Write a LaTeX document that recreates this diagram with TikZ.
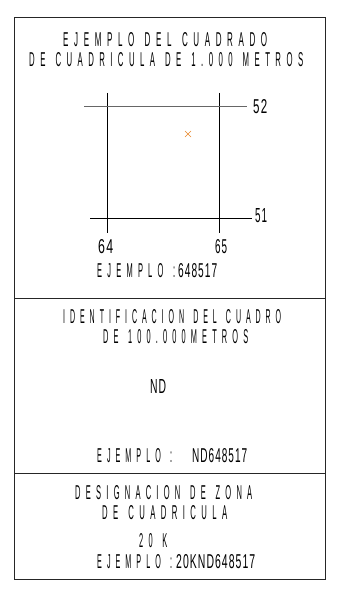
\documentclass[tikz,border=0pt]{standalone}
\usepackage{fontspec}
\setmainfont{Liberation Sans}
\ExplSyntaxOn
\NewDocumentCommand\lsp{m m m}
 {
  \str_map_inline:nn {#3}
   { \str_if_eq:nnTF {##1} {~} { \hspace{#2} } { ##1 \hspace{#1} } }
  \hspace{-#1}
 }
\ExplSyntaxOff
\newcommand{\sptxt}[2]{\resizebox{#1pt}{14pt}{\lsp{7pt}{6pt}{#2}}}
\newcommand{\tttxt}[2]{\resizebox{#1pt}{14pt}{\lsp{1pt}{4pt}{#2}}}
\definecolor{xorange}{HTML}{E8862A}
\tikzset{
  lbl/.style={inner sep=0pt, anchor=west},
  frame/.style={draw=black!85, line width=0.8pt},
  grid/.style={draw=black, line width=0.8pt},
}
\begin{document}
\begin{tikzpicture}[x=1pt,y=-1pt]
\useasboundingbox (0,0) rectangle (339,591);
% frame
\draw[frame] (14,17) rectangle (325,579);
\draw[frame] (14,298) -- (325,298);
\draw[frame] (14,473) -- (325,473);
% titles
\node[lbl] (t1) at (63,40) {\sptxt{204}{EJEMPLO DEL CUADRADO}};
\node[lbl] (t2) at (29,60) {\sptxt{274}{DE CUADRICULA DE 1.000 METROS}};
% grid labels
\node[lbl] (l52) at (253,107) {\tttxt{14}{52}};
\node[lbl] (l51) at (255,216) {\tttxt{12}{51}};
\node[lbl] (l64) at (98,247) {\tttxt{15}{64}};
\node[lbl] (l65) at (215,247) {\tttxt{12}{65}};
% grid lines
\draw[grid] (107,93) -- (107,233);
\draw[grid] (219,93) -- (219,233);
\draw[grid, draw=black!60] (84,106) -- (247,106);
\draw[grid] (90,218) -- (252,218);
% marker
\node[inner sep=0pt, text=xorange] (mk) at (188,134) {};
\draw[xorange, line width=0.6pt] (mk) ++(-3,-3) -- ++(6,6) (mk) ++(-3,3) -- ++(6,-6);
\node[lbl] (e1a) at (97,271) {\sptxt{78}{EJEMPLO :}};
\node[lbl] (e1b) at (178,271) {\tttxt{39}{648517}};
% section 2
\node[lbl] (t3) at (63,317) {\sptxt{218}{IDENTIFICACION DEL CUADRO}};
\node[lbl] (t4) at (103,337) {\sptxt{145}{DE 100.000METROS}};
\node[lbl] (nd) at (150,386) {\tttxt{16}{ND}};
\node[lbl] (e2a) at (97,456) {\sptxt{75}{EJEMPLO :}};
\node[lbl] (e2b) at (192,456) {\tttxt{55}{ND648517}};
% section 3
\node[lbl] (t5) at (75,493) {\sptxt{177}{DESIGNACION DE ZONA}};
\node[lbl] (t6) at (102,513) {\sptxt{125}{DE CUADRICULA}};
\node[lbl] (zk) at (139,541) {\sptxt{28}{20 K}};
\node[lbl] (e3a) at (97,562) {\sptxt{75}{EJEMPLO :}};
\node[lbl] (e3b) at (176,562) {\tttxt{79}{20KND648517}};
\end{tikzpicture}
\end{document}
